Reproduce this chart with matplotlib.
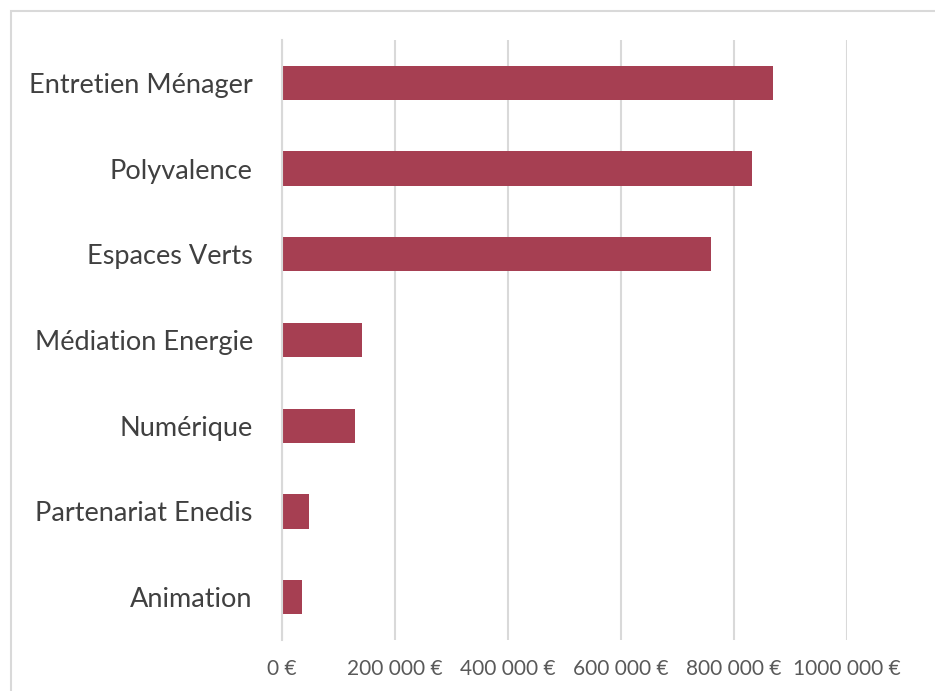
import matplotlib.pyplot as plt
from matplotlib.patches import Rectangle

categories = ["Entretien Ménager", "Polyvalence", "Espaces Verts", "Médiation Energie",
              "Numérique", "Partenariat Enedis", "Animation"]
values = [869000, 832000, 759000, 142000, 129000, 48000, 35000]
xticks = [0, 200000, 400000, 600000, 800000, 1000000]
xtick_labels = ["0 €", "200 000 €", "400 000 €", "600 000 €", "800 000 €", "1000 000 €"]

plt.rcParams['font.family'] = ['Lato', 'DejaVu Sans']

fig = plt.figure(figsize=(9.35, 6.91), dpi=100)
ax = fig.add_axes([282 / 935, 1 - 640 / 691, (847 - 282) / 935, 600 / 691])

y = list(range(len(categories)))[::-1]
ax.barh(y, values, height=0.4, color='#A63F52', zorder=3)

ax.set_xlim(0, 1000000)
ax.set_ylim(-0.5, len(categories) - 0.5)
ax.set_yticks(y)
ax.set_yticklabels(categories, fontsize=19.5, color='#404040')
ax.set_xticks(xticks)
ax.set_xticklabels(xtick_labels, fontsize=15, color='#595959')
ax.tick_params(axis='y', length=0, pad=21)
ax.tick_params(axis='x', length=0, pad=14)
ax.grid(axis='x', color='#D9D9D9', linewidth=1.5, zorder=0)
for s in ['top', 'right', 'bottom']:
    ax.spines[s].set_visible(False)
ax.spines['left'].set_color('#D9D9D9')
ax.spines['left'].set_linewidth(1.5)
ax.spines['left'].set_zorder(4)

fig.patches.append(Rectangle((11 / 935, -0.05), 1.1, 1 - 11 / 691 + 0.05,
                             transform=fig.transFigure, fill=False,
                             edgecolor='#D9D9D9', linewidth=1.5))

fig.savefig('out.png', dpi=100)
